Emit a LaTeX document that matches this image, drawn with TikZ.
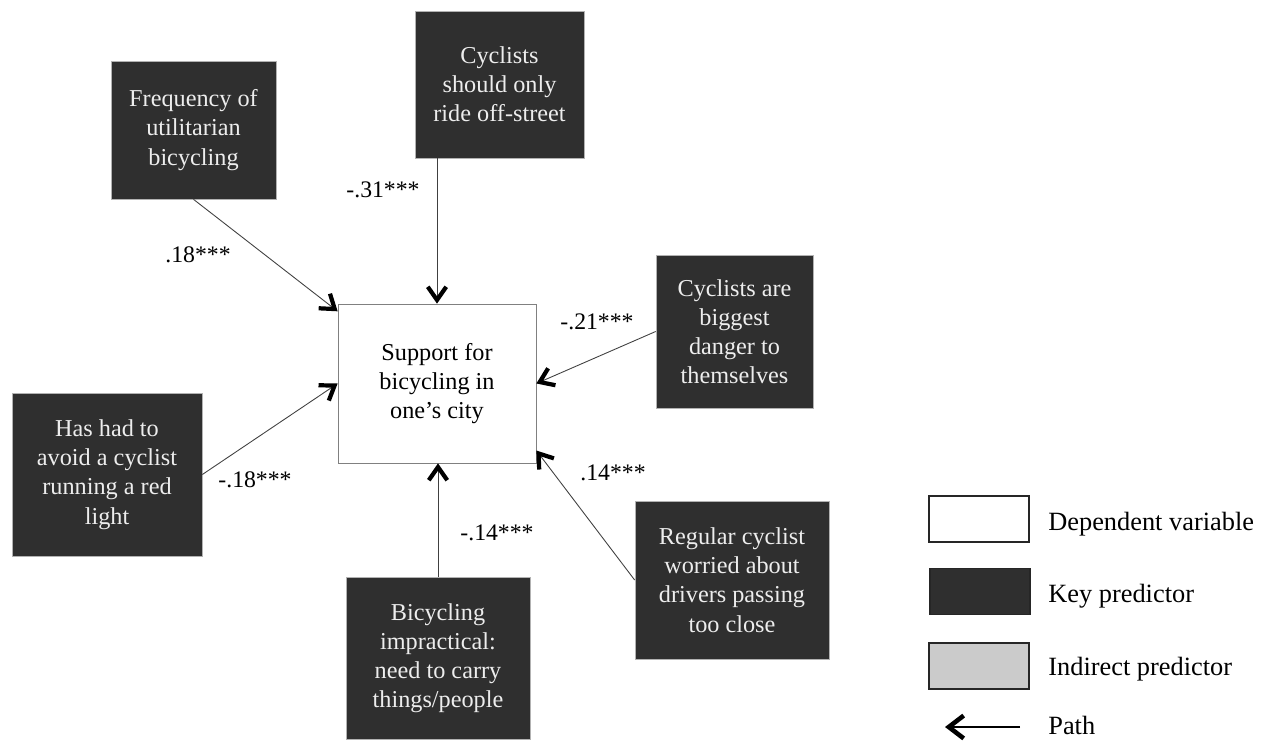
\documentclass[tikz,border=0pt]{standalone}
\usepackage{fontspec}
\setmainfont{Liberation Serif}
\usepackage{xcolor}
\usepackage{tikz}
\usetikzlibrary{calc}
\usetikzlibrary{arrows.meta,positioning}

\definecolor{keydark}{HTML}{2F2F2F}
\definecolor{indgray}{HTML}{CBCBCB}

\begin{document}
\begin{tikzpicture}[x=0.2mm,y=-0.2mm,
		keybox/.style={draw=gray!60,fill=keydark,text=white!93!black,align=center,inner sep=0pt,font=\fontsize{13.8}{16.6}\selectfont},
		depbox/.style={draw=gray,fill=white,align=center,inner sep=0pt,font=\fontsize{13.8}{16.6}\selectfont},
		legbox/.style={draw=black!85,line width=0.8pt,minimum width=20mm,minimum height=9.2mm,inner sep=0pt},
		legtext/.style={anchor=west,inner sep=0pt,font=\fontsize{15}{18}\selectfont},
		coef/.style={inner sep=0pt,font=\fontsize{13.5}{16}\selectfont},
		pathto/.style={draw=black!75,line width=0.5pt,-{Straight Barb[line width=2.4pt,length=7.5pt,width=10.5pt,color=black]}}]
		\useasboundingbox (0,0) rectangle (1265,740);
		\node[depbox,minimum width=39.6mm,minimum height=31.8mm] (support) at (437,383.5) {Support for\\bicycling in\\one’s city};
		\node[keybox,minimum width=33mm,minimum height=27.6mm] (freq) at (193.5,130) {Frequency of\\utilitarian\\bicycling};
		\node[keybox,minimum width=33.8mm,minimum height=29.4mm] (offst) at (499.5,84.5) {Cyclists\\should only\\ride off-street};
		\node[keybox,minimum width=31.4mm,minimum height=30.6mm] (danger) at (734.5,331.5) {Cyclists are\\biggest\\danger to\\themselves};
		\node[keybox,minimum width=38mm,minimum height=32.6mm] (redlight) at (107,474.5) {Has had to\\avoid a cyclist\\running a red\\light};
		\node[keybox,minimum width=36.8mm,minimum height=32.4mm] (impract) at (438,658) {Bicycling\\impractical:\\need to carry\\things/people};
		\node[keybox,minimum width=38.8mm,minimum height=31.6mm] (regular) at (732,580) {Regular cyclist\\worried about\\drivers passing\\too close};
		\draw[pathto] (freq.south) -- (support.144);
		\draw[pathto] (offst.south -| support.north) -- (support.north);
		\draw[pathto] (danger.west) -- (support.east);
		\draw[pathto] (redlight.east) -- (support.west);
		\draw[pathto] (impract.north) -- (impract.north |- support.south);
		\draw[pathto] (regular.west) -- (support.326);
		\node[coef] (cfreq) at (198,255) {.18***};
		\node[coef] (coffst) at (383,190) {-.31***};
		\node[coef] (cdanger) at (597,322) {-.21***};
		\node[coef] (credlight) at (255,480) {-.18***};
		\node[coef] (cimpract) at (497,533) {-.14***};
		\node[coef] (cregular) at (613,473) {.14***};
		\node[legbox,fill=white] (legdep) at (979,519) {};
		\node[legbox,fill=keydark] (legkey) at (980,591.5) {};
		\node[legbox,fill=indgray] (legind) at (979,666) {};
		\node[legtext] (tdep) at (1048,524) {Dependent variable};
		\node[legtext] (tkey) at (1048,596) {Key predictor};
		\node[legtext] (tind) at (1048,669) {Indirect predictor};
		\node[legtext] (tpath) at (1048,725) {Path};
		\coordinate (pathR) at (1020,727);
		\coordinate (pathL) at (945,727);
		\draw[line width=1.3pt,-{Straight Barb[line width=2.6pt,length=8.5pt,width=13pt]}] (pathR) -- (pathL);
\end{tikzpicture}
\end{document}
